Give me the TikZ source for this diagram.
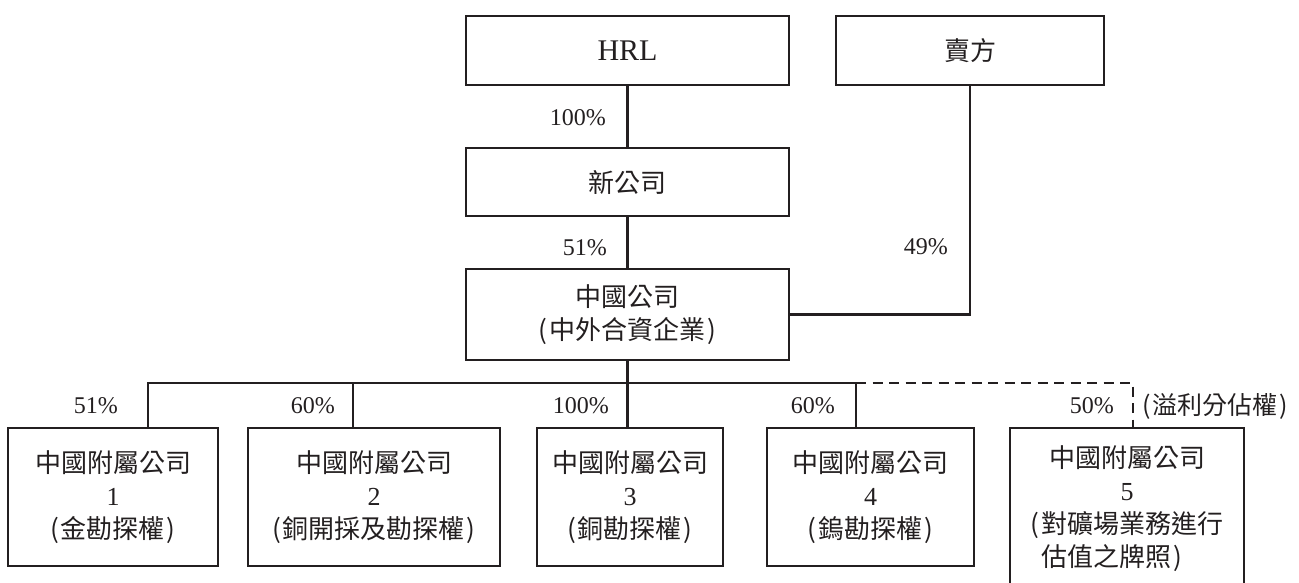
\documentclass[tikz,border=0pt]{standalone}
\usepackage{fontspec}
\setmainfont{Liberation Serif}
\newfontfamily\cjk{Noto Sans CJK TC}
\newfontfamily\latin{Liberation Serif}
\definecolor{ink}{HTML}{231F20}
\newcommand\lpar{(\hspace{2pt}}
\newcommand\rpar{\hspace{2pt})}
\begin{document}
\begin{tikzpicture}[x=1pt,y=-1pt,
  box/.style={draw=ink, line width=2.4pt, inner sep=0pt, align=center, text=ink,
    font=\cjk\fontsize{26}{33}\selectfont},
  subbox/.style={box, line width=2.7pt, minimum height=138pt},
  pct/.style={font=\latin\fontsize{24}{28}\selectfont, anchor=east, inner sep=0pt, text=ink},
  note/.style={font=\cjk\fontsize{25}{28}\selectfont, anchor=west, inner sep=0pt, text=ink},
  conn/.style={draw=ink, line width=2.4pt},
  dconn/.style={conn, dash pattern=on 10pt off 6.5pt}]
\useasboundingbox (0,0) rectangle (1299,583);
\clip (0,0) rectangle (1299,583);
% top boxes
\node[box, minimum width=323pt, minimum height=69pt, font=\latin\fontsize{30}{34}\selectfont] (hrl) at (627.5,50.5) {HRL};
\node[box, minimum width=268pt, minimum height=69pt] (seller) at (970,50.5) {賣方};
\node[box, minimum width=323pt, minimum height=68pt] (newco) at (627.5,182) {新公司};
\node[box, minimum width=323pt, minimum height=91pt] (china) at (627.5,314.5) {中國公司\\\lpar 中外合資企業\rpar};
% subsidiaries
\node[subbox, minimum width=210pt] (sub1) at (113,497) {中國附屬公司\\{\latin 1}\\\lpar 金勘探權\rpar};
\node[subbox, minimum width=252pt] (sub2) at (374,497) {中國附屬公司\\{\latin 2}\\\lpar 銅開採及勘探權\rpar};
\node[subbox, minimum width=186pt] (sub3) at (630,497) {中國附屬公司\\{\latin 3}\\\lpar 銅勘探權\rpar};
\node[subbox, minimum width=207pt] (sub4) at (870.5,497) {中國附屬公司\\{\latin 4}\\\lpar 鎢勘探權\rpar};
\node[box, line width=2.7pt, minimum width=234pt, minimum height=162pt] (sub5) at (1127,509)
  {中國附屬公司\\{\latin 5}\\\lpar 對礦場業務進行\\\phantom{\lpar}估值之牌照\rlap{\rpar}\phantom{進行}};
% connectors
\draw[conn] (hrl.south) -- (newco.north);
\draw[conn] (newco.south) -- (china.north);
\draw[conn] (seller.south) |- (china.east);
\coordinate (b1) at (148,383);
\coordinate (b2) at (353,383);
\coordinate (b3) at (627.5,383);
\coordinate (b4) at (856,383);
\coordinate (b5) at (1133,383);
\draw[conn] (china.south) -- (b3) -- (b3 |- sub3.north);
\draw[conn] (b1 |- sub1.north) -- (b1) -- (b4) -- (b4 |- sub4.north);
\draw[conn] (b2) -- (b2 |- sub2.north);
\draw[dconn] (b4) -- (b5) -- (b5 |- sub5.north);
% labels
\node[pct] (p1) at (606,118) {100\%};
\node[pct] (p2) at (607,248) {51\%};
\node[pct] (p3) at (948,247) {49\%};
\node[pct] (q1) at (118,406) {51\%};
\node[pct] (q2) at (335,406) {60\%};
\node[pct] (q3) at (609,406) {100\%};
\node[pct] (q4) at (835,406) {60\%};
\node[pct] (q5) at (1114,406) {50\%};
\node[note] (n5) at (1142,406) {\lpar 溢利分佔權\rpar};
\end{tikzpicture}
\end{document}
